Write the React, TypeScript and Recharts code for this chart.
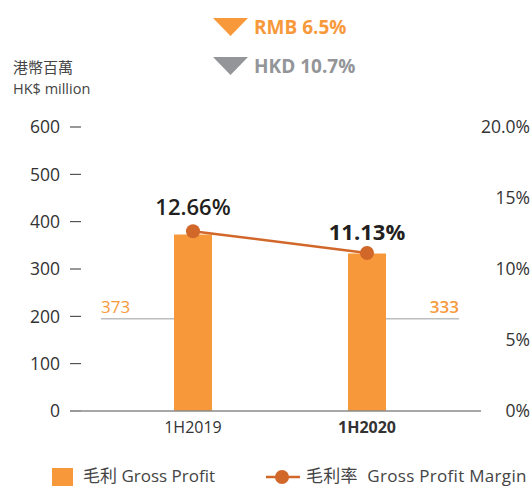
import React from 'react'
import { ComposedChart, Bar, Line, XAxis, YAxis, Legend, LabelList } from 'recharts'

const periods = ['1H2019', '1H2020']
const grossProfit = [373, 333]
const grossMargin = [0.1266, 0.1113]
const leftTicks = [0, 100, 200, 300, 400, 500, 600]
const rightTicks = [0, 0.05, 0.1, 0.15, 0.2]
const rightTickLabels = ['0%', '5%', '10%', '15%', '20.0%']
const changes = [
  { label: 'RMB 6.5%', color: '#f7993b' },
  { label: 'HKD 10.7%', color: '#939598' },
]

const ORANGE = '#f7993b'
const LINE = '#d2672a'
const FONT = '"Open Sans", "Noto Sans CJK TC", sans-serif'

const data = periods.map((p, i) => ({ period: p, profit: grossProfit[i], margin: grossMargin[i] }))

// the gross profit labels sit on a short grey rule, roughly at the 195 level
const LABEL_LEVEL = 195

function ProfitLabel(props: any) {
  const { x, y, width, height, value, index } = props
  const perUnit = height / value
  const ly = y + height - LABEL_LEVEL * perUnit
  const len = 73
  const first = index === 0
  const x1 = first ? x - len : x + width
  const x2 = first ? x : x + width + len
  return (
    <g>
      <line x1={x1} x2={x2} y1={ly} y2={ly} stroke="#bcbec0" strokeWidth={1.5} />
      <text
        x={first ? x1 : x2}
        y={ly - 6}
        textAnchor={first ? 'start' : 'end'}
        fill={ORANGE}
        fontSize={17}
        fontWeight={first ? 400 : 600}
        fontFamily={FONT}
      >
        {value}
      </text>
    </g>
  )
}

function MarginLabel(props: any) {
  const { x, y, value, index } = props
  const last = index === periods.length - 1
  return (
    <text
      x={x}
      y={y - (last ? 13 : 16)}
      textAnchor="middle"
      fill="#231f20"
      fontSize={22}
      fontWeight={last ? 700 : 600}
      fontFamily={FONT}
    >
      {(value * 100).toFixed(2)}%
    </text>
  )
}

function PeriodTick(props: any) {
  const { x, y, payload, index } = props
  const last = index === periods.length - 1
  return (
    <text x={x} y={y + 14} textAnchor="middle" fill="#333" fontSize={16} fontWeight={last ? 700 : 400} fontFamily={FONT}>
      {payload.value}
    </text>
  )
}

function RightTick(props: any) {
  const { x, y, payload } = props
  const i = rightTicks.indexOf(payload.value)
  return (
    <text x={x} y={y + 6} textAnchor="end" fill="#333" fontSize={17.5} fontFamily={FONT}>
      {rightTickLabels[i]}
    </text>
  )
}

function LegendContent() {
  return (
    <div style={{ position: 'relative', width: 532, height: 30, fontFamily: FONT, fontSize: 17, color: '#444', lineHeight: '20px' }}>
      <div style={{ position: 'absolute', left: 52, top: 12, width: 21, height: 18, background: ORANGE }} />
      <div style={{ position: 'absolute', left: 83, top: 10, whiteSpace: 'nowrap' }}>毛利 Gross Profit</div>
      <svg style={{ position: 'absolute', left: 266, top: 13 }} width={34} height={16}>
        <line x1={0} x2={34} y1={8} y2={8} stroke={LINE} strokeWidth={2.5} />
        <circle cx={16} cy={8} r={7} fill={LINE} />
      </svg>
      <div style={{ position: 'absolute', left: 306, top: 10, whiteSpace: 'nowrap', letterSpacing: 0.3 }}>
        毛利率&nbsp;&nbsp;Gross Profit Margin
      </div>
    </div>
  )
}

export default function App() {
  return (
    <div style={{ position: 'absolute', left: 0, top: 0, width: 532, height: 486, overflow: 'hidden', background: '#fff' }}>
      <ComposedChart width={532} height={486} data={data} margin={{ top: 127, right: 0, bottom: 0, left: 0 }}>
        <XAxis
          dataKey="period"
          height={45}
          padding={{ left: 25, right: 27 }}
          tickLine={false}
          axisLine={{ stroke: '#8a8a8a', strokeWidth: 1.5 }}
          tick={<PeriodTick />}
        />
        <YAxis
          yAxisId="left"
          width={81}
          domain={[0, 600]}
          ticks={leftTicks}
          axisLine={false}
          tickLine={{ stroke: '#333' }}
          tickSize={11}
          tickMargin={10}
          tick={{ fill: '#333', fontSize: 17.5, fontFamily: FONT }}
        />
        <YAxis
          yAxisId="right"
          orientation="right"
          width={51}
          domain={[0, 0.2]}
          ticks={rightTicks}
          axisLine={false}
          tickLine={false}
          tickSize={0}
          tickMargin={49}
          tick={<RightTick />}
        />
        <Legend verticalAlign="bottom" height={30} wrapperStyle={{ left: 0, width: 532 }} content={<LegendContent />} />
        <Bar yAxisId="left" dataKey="profit" fill={ORANGE} barSize={38} isAnimationActive={false}>
          <LabelList dataKey="profit" content={<ProfitLabel />} />
        </Bar>
        <Line
          yAxisId="right"
          dataKey="margin"
          stroke={LINE}
          strokeWidth={2.5}
          dot={{ r: 7, fill: LINE, stroke: LINE, strokeWidth: 0 }}
          isAnimationActive={false}
        >
          <LabelList dataKey="margin" content={<MarginLabel />} />
        </Line>
      </ComposedChart>
      <svg style={{ position: 'absolute', left: 0, top: 0, pointerEvents: 'none' }} width={532} height={110}>
        {changes.map((c, i) => (
          <g key={c.label}>
            <polygon points={`213,${18 + i * 39} 248,${18 + i * 39} 230.5,${36 + i * 39}`} fill={c.color} />
            <text x={254} y={34 + i * 39} fill={c.color} fontSize={19} fontWeight={700} fontFamily={FONT}>
              {c.label}
            </text>
          </g>
        ))}
        <text x={13} y={73} fill="#444" fontSize={15} fontFamily={FONT}>港幣百萬</text>
        <text x={13} y={94} fill="#444" fontSize={14.5} fontFamily={FONT}>HK$ million</text>
      </svg>
    </div>
  )
}
